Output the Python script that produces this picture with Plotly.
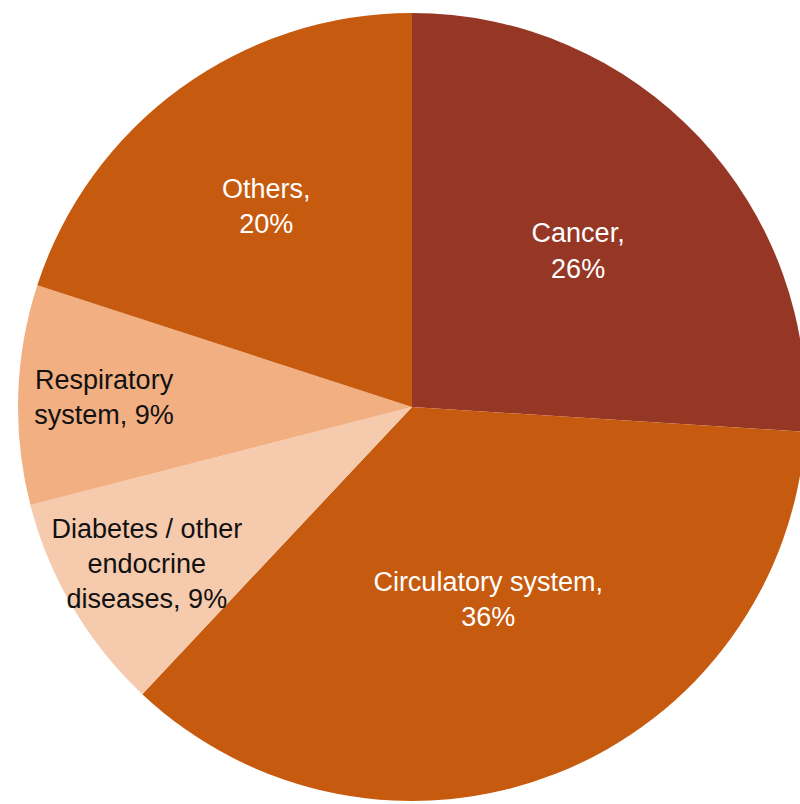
import plotly.graph_objects as go

categories = ["Cancer", "Circulatory system", "Diabetes / other endocrine diseases", "Respiratory system", "Others"]
values = [26, 36, 9, 9, 20]
label_text = ["Cancer,<br>26%", "Circulatory system,<br>36%", "Diabetes / other<br>endocrine<br>diseases, 9%",
              "Respiratory<br>system, 9%", "Others,<br>20%"]
colors = ["#963726", "#C65A0E", "#F6CAAC", "#F1AF82", "#C65A0E"]
text_colors = ["#FFFFFF", "#FFFFFF", "#111111", "#111111", "#FFFFFF"]

W, H = 812, 804
cx, cy, r = 412, 407, 394

fig = go.Figure(go.Pie(
    labels=categories,
    values=values,
    text=label_text,
    textinfo="text",
    textposition="inside",
    insidetextorientation="horizontal",
    insidetextfont=dict(family="Liberation Sans, Arial", size=27, color=text_colors),
    marker=dict(colors=colors, line=dict(width=0)),
    sort=False,
    direction="clockwise",
    rotation=0,
    showlegend=False,
    hoverinfo="label+percent",
    domain=dict(x=[(cx - r) / W, (cx + r) / W], y=[(H - cy - r) / H, (H - cy + r) / H]),
))

fig.update_layout(
    width=W, height=H,
    margin=dict(l=0, r=0, t=0, b=0),
    paper_bgcolor="white",
    uniformtext=dict(minsize=27, mode="show"),
)

fig.write_html("out.html", config={"displayModeBar": False},
               post_script="document.body.style.margin='0';document.body.style.overflow='hidden';document.documentElement.style.overflow='hidden';")
